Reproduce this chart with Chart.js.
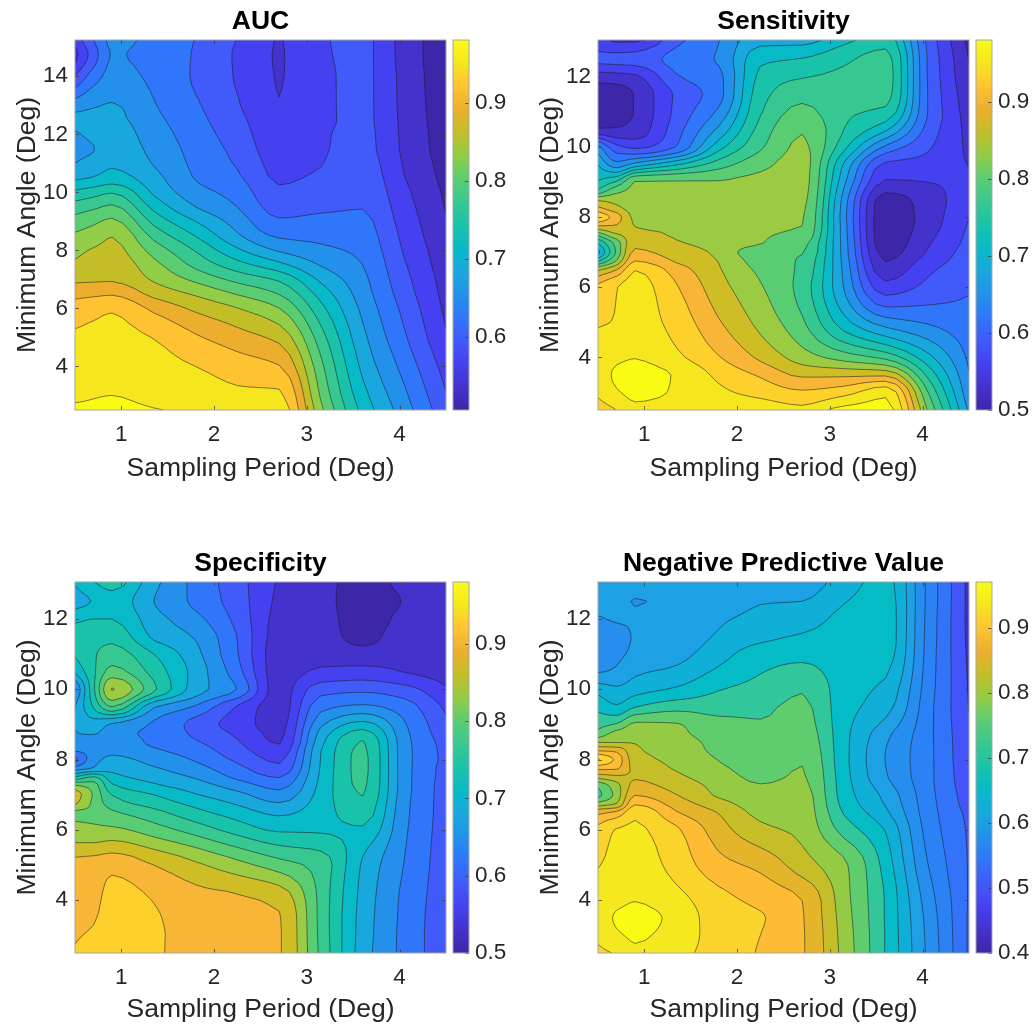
<!DOCTYPE html>
<html>
<head>
<meta charset="utf-8">
<title>Contour panels</title>
<script src="https://cdn.jsdelivr.net/npm/chart.js@4/dist/chart.umd.js"></script>
<style>
  body { margin: 0; background: #fff; }
  canvas { position: absolute; }
</style>
</head>
<body>
<canvas id="aucChart" width="447" height="490" style="left:0;top:0"></canvas>
<canvas id="aucBar" width="70" height="490" style="left:452px;top:0"></canvas>
<canvas id="sensChart" width="452" height="490" style="left:518px;top:0"></canvas>
<canvas id="sensBar" width="60" height="490" style="left:975px;top:0"></canvas>
<canvas id="specChart" width="447" height="491" style="left:0;top:542px"></canvas>
<canvas id="specBar" width="70" height="491" style="left:452px;top:542px"></canvas>
<canvas id="npvChart" width="452" height="491" style="left:518px;top:542px"></canvas>
<canvas id="npvBar" width="60" height="491" style="left:975px;top:542px"></canvas>
<script>
// Grid: one inner array per sampling period, bottom row first
const samplingPeriods = [0.5, 0.7, 0.9, 1.35, 1.8, 2.25, 2.7, 3.15, 3.6, 4.05, 4.5];
const aucAngles = [2.5, 3, 4, 5, 6, 6.5, 7, 7.5, 8, 8.5, 9, 9.5, 10, 10.5, 11, 11.5, 12, 12.5, 13, 14, 14.75, 15.25];
const angles = [2.5, 3, 3.5, 4, 5, 6, 6.5, 6.75, 7, 7.25, 7.5, 7.75, 8, 8.25, 8.5, 8.75, 9, 9.5, 10, 10.5, 11, 11.5, 12, 12.5, 13.05];

const aucValues = [
  [.983,.977,.966,.955,.933,.911,.884,.866,.851,.835,.812,.784,.746,.704,.68,.671,.677,.689,.665,.59,.551,.572],
  [.983,.979,.968,.958,.941,.914,.886,.875,.863,.845,.824,.794,.757,.712,.692,.679,.686,.689,.677,.635,.605,.62],
  [.985,.98,.97,.96,.947,.917,.887,.878,.869,.859,.836,.805,.768,.723,.706,.7,.694,.688,.682,.659,.652,.656],
  [.981,.974,.962,.949,.913,.881,.856,.839,.818,.791,.761,.731,.705,.69,.678,.671,.665,.658,.652,.644,.641,.643],
  [.976,.967,.95,.924,.884,.856,.823,.792,.768,.739,.71,.68,.662,.648,.643,.639,.634,.629,.624,.616,.617,.619],
  [.962,.956,.935,.903,.861,.828,.791,.752,.716,.685,.667,.65,.638,.625,.617,.611,.605,.599,.593,.587,.586,.589],
  [.965,.956,.922,.881,.831,.799,.765,.719,.677,.646,.624,.608,.595,.586,.58,.574,.569,.565,.561,.5585,.558,.5585],
  [.838,.826,.808,.783,.749,.728,.704,.678,.658,.641,.627,.615,.605,.595,.589,.587,.586,.584,.584,.584,.586,.587],
  [.731,.721,.703,.688,.673,.665,.658,.65,.642,.634,.626,.619,.613,.608,.604,.599,.598,.596,.596,.596,.596,.596],
  [.664,.656,.64,.624,.612,.605,.599,.593,.587,.582,.577,.572,.567,.561,.557,.554,.553,.552,.551,.55,.548,.548],
  [.599,.592,.578,.563,.554,.55,.547,.543,.54,.535,.532,.528,.525,.521,.518,.515,.514,.512,.511,.509,.509,.509]
];
const sensitivityValues = [
  [.932,.955,.961,.962,.947,.926,.854,.763,.701,.739,.809,.89,.944,.898,.854,.776,.743,.709,.659,.532,.512,.51,.545,.596,.575],
  [.95,.977,.985,.974,.952,.949,.89,.833,.806,.812,.856,.887,.905,.869,.848,.821,.775,.662,.599,.533,.515,.515,.548,.599,.554],
  [.974,.986,.992,.979,.964,.962,.949,.92,.896,.883,.871,.859,.854,.848,.842,.836,.832,.691,.583,.542,.532,.532,.554,.602,.554],
  [.968,.977,.977,.956,.938,.922,.905,.886,.874,.863,.856,.851,.848,.845,.842,.838,.833,.737,.622,.608,.599,.596,.617,.632,.611],
  [.965,.956,.943,.922,.893,.872,.863,.859,.854,.851,.848,.845,.842,.839,.836,.835,.832,.785,.728,.686,.656,.638,.641,.653,.649],
  [.968,.941,.916,.884,.851,.833,.823,.815,.806,.831,.833,.835,.836,.838,.839,.839,.838,.821,.795,.781,.767,.758,.748,.733,.698],
  [.959,.925,.885,.845,.805,.788,.793,.796,.802,.812,.823,.83,.833,.836,.839,.841,.842,.842,.836,.827,.809,.79,.768,.742,.698],
  [.992,.939,.884,.817,.722,.679,.674,.671,.668,.667,.665,.664,.662,.664,.668,.677,.688,.707,.749,.77,.776,.779,.776,.764,.731],
  [.995,.971,.884,.791,.665,.572,.541,.529,.518,.512,.509,.508,.509,.511,.515,.535,.556,.584,.644,.716,.762,.782,.785,.782,.755],
  [.83,.803,.764,.721,.647,.598,.583,.572,.562,.556,.55,.545,.543,.543,.545,.551,.56,.578,.595,.61,.621,.621,.62,.619,.614],
  [.674,.659,.652,.644,.631,.617,.611,.607,.604,.599,.596,.593,.589,.583,.578,.574,.569,.559,.554,.55,.544,.539,.533,.529,.521]
];
const specificityValues = [
  [.923,.917,.911,.908,.899,.838,.826,.865,.878,.836,.743,.664,.611,.652,.68,.679,.682,.679,.647,.715,.743,.755,.733,.698,.713],
  [.935,.925,.917,.911,.902,.836,.823,.823,.826,.815,.773,.683,.668,.659,.661,.683,.695,.743,.763,.764,.766,.758,.74,.712,.739],
  [.947,.943,.938,.934,.911,.836,.805,.785,.769,.746,.722,.701,.688,.673,.665,.662,.676,.8,.862,.811,.784,.761,.74,.728,.755],
  [.924,.924,.923,.919,.89,.814,.779,.758,.74,.716,.698,.683,.669,.655,.644,.643,.646,.683,.776,.758,.74,.704,.692,.68,.689],
  [.911,.911,.908,.902,.866,.787,.749,.731,.712,.695,.677,.661,.647,.635,.623,.614,.61,.646,.695,.698,.689,.677,.659,.643,.641],
  [.902,.901,.899,.895,.841,.758,.725,.707,.689,.667,.644,.629,.614,.602,.593,.584,.575,.587,.649,.632,.622,.619,.611,.605,.602],
  [.893,.893,.892,.883,.814,.736,.703,.682,.661,.641,.619,.598,.584,.572,.557,.551,.548,.545,.545,.545,.545,.548,.551,.554,.557],
  [.793,.791,.79,.79,.787,.736,.728,.725,.722,.719,.716,.713,.711,.709,.701,.691,.674,.64,.607,.566,.548,.542,.541,.539,.539],
  [.695,.697,.698,.7,.706,.736,.755,.763,.771,.775,.777,.778,.778,.776,.772,.752,.722,.656,.613,.571,.541,.521,.518,.518,.521],
  [.641,.641,.642,.643,.649,.655,.658,.659,.661,.662,.662,.662,.662,.662,.661,.658,.653,.634,.601,.559,.548,.541,.535,.531,.535],
  [.599,.599,.599,.601,.602,.604,.605,.605,.605,.605,.607,.608,.611,.61,.607,.601,.596,.584,.563,.548,.542,.539,.538,.538,.539]
];
const npvValues = [
  [.916,.932,.937,.939,.923,.899,.845,.762,.703,.72,.796,.864,.929,.855,.782,.726,.703,.67,.631,.573,.561,.556,.573,.582,.586],
  [.929,.955,.964,.951,.936,.927,.862,.785,.764,.771,.81,.859,.88,.848,.782,.761,.719,.65,.617,.579,.57,.566,.577,.579,.584],
  [.955,.964,.971,.959,.943,.93,.918,.885,.853,.831,.817,.808,.801,.792,.783,.771,.757,.678,.631,.603,.58,.577,.577,.5745,.582],
  [.936,.946,.95,.937,.911,.895,.857,.838,.82,.806,.792,.782,.776,.769,.764,.757,.752,.701,.65,.619,.598,.589,.584,.579,.582],
  [.909,.908,.906,.901,.867,.836,.818,.799,.78,.775,.766,.757,.749,.743,.74,.733,.727,.699,.678,.652,.631,.614,.605,.593,.593],
  [.887,.89,.893,.881,.846,.794,.776,.768,.759,.752,.743,.736,.729,.726,.722,.719,.717,.708,.692,.678,.663,.635,.619,.608,.596],
  [.859,.859,.858,.855,.801,.776,.769,.766,.762,.758,.754,.751,.747,.743,.738,.734,.729,.722,.712,.691,.67,.649,.628,.61,.589],
  [.773,.771,.768,.764,.757,.701,.677,.668,.663,.661,.659,.657,.656,.656,.656,.656,.657,.659,.661,.663,.663,.659,.654,.643,.628],
  [.678,.678,.677,.677,.666,.643,.617,.607,.6,.589,.579,.576,.574,.575,.579,.586,.6,.624,.636,.65,.659,.661,.661,.659,.656],
  [.57,.568,.565,.559,.542,.528,.523,.521,.519,.517,.516,.516,.516,.516,.516,.516,.517,.519,.523,.526,.528,.53,.531,.533,.533],
  [.465,.465,.465,.467,.467,.465,.46,.454,.451,.447,.444,.442,.44,.439,.439,.438,.437,.434,.432,.43,.428,.426,.425,.425,.425]
];

// Contour levels
const levels = [.53, .56, .59, .62, .65, .68, .71, .74, .77, .8, .83, .86, .89, .92, .95, .98];
const npvLevels = [.435, .47, .505, .54, .575, .61, .645, .68, .715, .75, .785, .82, .855, .89, .925, .96];

// Tick labels
const xTicks = [1, 2, 3, 4];
const aucYTicks = [4, 6, 8, 10, 12, 14];
const yTicks = [4, 6, 8, 10, 12];
const aucBarTicks = [.6, .7, .8, .9];
const barTicks = [.5, .6, .7, .8, .9];
const npvBarTicks = [.4, .5, .6, .7, .8, .9];

const bandColors = ["#3e26a8", "#4432cd", "#4641f0", "#415afa", "#3076fa", "#2391eb", "#19a8de", "#08b9c8",
  "#19c3aa", "#37c891", "#5acd73", "#91cd46", "#c3be28", "#ebaf2d", "#ffc332", "#f5e61e", "#f9fb15"];
const warmBandColors = ["#3e26a8", "#4432cd", "#4641f0", "#415afa", "#3076fa", "#2391eb", "#19a8de", "#08b9c8",
  "#19c3aa", "#37c891", "#5acd73", "#9bcb42", "#cfbd26", "#f8b637", "#fdd02c", "#f5e61e", "#f9fb15"];
const npvBandColors = ["#3e30cd", "#4155fa", "#3273fa", "#2a82f5", "#258eee", "#1ea0e4", "#0fafd7", "#05bbc6",
  "#32c69b", "#5fcd6e", "#94ca44", "#c6be28", "#e4b42a", "#febb34", "#fad42a", "#f5e81e", "#f9fb15"];

const FONT = "'Liberation Sans', Arial, sans-serif";
const INK = "#262626";

function toPoints(xs, ys, values) {
  const points = [];
  xs.forEach((x, i) => ys.forEach((y, j) => points.push({ x: x, y: y, z: values[i][j] })));
  return points;
}

// Shape-preserving curve through one grid line, so the contours come out rounded
function curveSlopes(t, v) {
  const n = t.length;
  const d = [];
  for (let i = 0; i < n - 1; i++) d.push((v[i + 1] - v[i]) / (t[i + 1] - t[i]));
  const m = [d[0]];
  for (let i = 1; i < n - 1; i++) {
    if (d[i - 1] * d[i] <= 0) {
      m.push(0);
    } else {
      const h0 = t[i] - t[i - 1];
      const h1 = t[i + 1] - t[i];
      const w0 = 2 * h1 + h0;
      const w1 = h1 + 2 * h0;
      m.push((w0 + w1) / (w0 / d[i - 1] + w1 / d[i]));
    }
  }
  m.push(d[n - 2]);
  return m;
}

function resample(t, v, steps) {
  const m = curveSlopes(t, v);
  const out = [];
  for (let i = 0; i < t.length - 1; i++) {
    const h = t[i + 1] - t[i];
    for (let s = 0; s < steps; s++) {
      const u = s / steps;
      const u2 = u * u;
      const u3 = u2 * u;
      out.push((2 * u3 - 3 * u2 + 1) * v[i] + (u3 - 2 * u2 + u) * h * m[i]
        + (3 * u2 - 2 * u3) * v[i + 1] + (u3 - u2) * h * m[i + 1]);
    }
  }
  out.push(v[v.length - 1]);
  return out;
}

function fineAxis(t, steps) {
  const out = [];
  for (let i = 0; i < t.length - 1; i++) {
    for (let s = 0; s < steps; s++) out.push(t[i] + (t[i + 1] - t[i]) * s / steps);
  }
  out.push(t[t.length - 1]);
  return out;
}

function fineGrid(xs, ys, values, steps) {
  const alongY = values.map(col => resample(ys, col, steps));
  const rows = alongY[0].map((_, j) => resample(xs, alongY.map(col => col[j]), steps));
  return { xs: fineAxis(xs, steps), ys: fineAxis(ys, steps), rowsFirst: rows };
}

function crossing(a, b, level) {
  const t = (level - a.z) / (b.z - a.z);
  return { x: a.x + (b.x - a.x) * t, y: a.y + (b.y - a.y) * t };
}

// Filled contour bands, worked out cell by cell through the chart's scales
const contourPlugin = {
  id: "contourBands",
  beforeDatasetsDraw(chart, args, opts) {
    const ctx = chart.ctx;
    const area = chart.chartArea;
    const xScale = chart.scales.x;
    const yScale = chart.scales.y;
    const fine = fineGrid(opts.xs, opts.ys, opts.values, 4);
    const nodes = fine.xs.map((x, i) => fine.ys.map((y, j) => ({
      x: xScale.getPixelForValue(x),
      y: yScale.getPixelForValue(y),
      z: fine.rowsFirst[j][i]
    })));

    ctx.save();
    ctx.beginPath();
    ctx.rect(area.left, area.top, area.width, area.height);
    ctx.clip();
    ctx.fillStyle = opts.colors[0];
    ctx.fillRect(area.left, area.top, area.width, area.height);

    const lines = new Path2D();
    opts.levels.forEach((level, k) => {
      const fill = new Path2D();
      for (let i = 0; i < nodes.length - 1; i++) {
        for (let j = 0; j < nodes[i].length - 1; j++) {
          const quad = [nodes[i][j], nodes[i + 1][j], nodes[i + 1][j + 1], nodes[i][j + 1]];
          const poly = [];
          const cuts = [];
          quad.forEach((a, q) => {
            const b = quad[(q + 1) % 4];
            if (a.z >= level) poly.push(a);
            if ((a.z >= level) !== (b.z >= level)) {
              const c = crossing(a, b, level);
              poly.push(c);
              cuts.push(c);
            }
          });
          if (poly.length) {
            poly.forEach((p, n) => n ? fill.lineTo(p.x, p.y) : fill.moveTo(p.x, p.y));
            fill.closePath();
          }
          if (cuts.length === 2) {
            lines.moveTo(cuts[0].x, cuts[0].y);
            lines.lineTo(cuts[1].x, cuts[1].y);
          } else if (cuts.length === 4) {
            const s = quad[0].z >= level ? 0 : 1;
            lines.moveTo(cuts[s].x, cuts[s].y);
            lines.lineTo(cuts[s + 1].x, cuts[s + 1].y);
            lines.moveTo(cuts[(s + 2) % 4].x, cuts[(s + 2) % 4].y);
            lines.lineTo(cuts[(s + 3) % 4].x, cuts[(s + 3) % 4].y);
          }
        }
      }
      ctx.fillStyle = opts.colors[k + 1];
      ctx.fill(fill);
    });
    ctx.strokeStyle = "rgba(25,25,35,0.72)";
    ctx.lineWidth = 0.75;
    ctx.stroke(lines);
    ctx.restore();
  }
};

// Grey box and the short inward ticks
const framePlugin = {
  id: "frame",
  afterDatasetsDraw(chart) {
    const ctx = chart.ctx;
    const a = chart.chartArea;
    ctx.save();
    ctx.strokeStyle = "rgba(60,60,60,0.75)";
    ctx.lineWidth = 1;
    ctx.beginPath();
    const len = 4;
    if (chart.scales.x.options.display) {
      chart.scales.x.ticks.forEach(t => {
        const px = Math.round(chart.scales.x.getPixelForValue(t.value)) + 0.5;
        ctx.moveTo(px, a.bottom); ctx.lineTo(px, a.bottom - len);
        ctx.moveTo(px, a.top); ctx.lineTo(px, a.top + len);
      });
      chart.scales.y.ticks.forEach(t => {
        const py = Math.round(chart.scales.y.getPixelForValue(t.value)) + 0.5;
        ctx.moveTo(a.left, py); ctx.lineTo(a.left + len, py);
      });
    }
    chart.scales.y.ticks.forEach(t => {
      const py = Math.round(chart.scales.y.getPixelForValue(t.value)) + 0.5;
      ctx.moveTo(a.right, py); ctx.lineTo(a.right - len, py);
    });
    ctx.stroke();
    ctx.strokeStyle = "#a6a6a6";
    ctx.strokeRect(a.left, a.top, a.width, a.height);
    ctx.restore();
  }
};

function fixedTicks(list) {
  return scale => { scale.ticks = list.map(v => ({ value: v })); };
}

function createContour(id, title, ys, yMax, yTickList, values, levelList, colors, axisWidth, yTitleLeft, xTitleBottom) {
  new Chart(document.getElementById(id), {
    type: "scatter",
    data: { datasets: [{ label: title, data: toPoints(samplingPeriods, ys, values), pointRadius: 0, showLine: false }] },
    plugins: [contourPlugin, framePlugin],
    options: {
      responsive: false,
      animation: false,
      layout: { autoPadding: false, padding: { right: 1 } },
      events: [],
      plugins: {
        legend: { display: false },
        tooltip: { enabled: false },
        title: {
          display: true,
          text: title,
          fullSize: false,
          color: "#000",
          font: { family: FONT, size: 26.5, weight: "bold" },
          padding: { top: 6, bottom: 2.2 }
        },
        contourBands: { xs: samplingPeriods, ys: ys, values: values, levels: levelList, colors: colors }
      },
      scales: {
        x: {
          type: "linear",
          min: 0.5,
          max: 4.5,
          afterBuildTicks: fixedTicks(xTicks),
          afterFit: s => { s.height = 80; },
          grid: { display: false, drawTicks: false },
          border: { display: false },
          ticks: { color: INK, font: { family: FONT, size: 22.5 }, padding: 11, maxRotation: 0 },
          title: {
            display: true,
            text: "Sampling Period (Deg)",
            color: INK,
            font: { family: FONT, size: 26.5 },
            padding: { top: 0, bottom: xTitleBottom }
          }
        },
        y: {
          type: "linear",
          min: 2.5,
          max: yMax,
          afterBuildTicks: fixedTicks(yTickList),
          afterFit: s => { s.width = axisWidth; },
          grid: { display: false, drawTicks: false },
          border: { display: false },
          ticks: { color: INK, font: { family: FONT, size: 22.5 }, padding: 7 },
          title: {
            display: true,
            text: "Minimum Angle (Deg)",
            color: INK,
            font: { family: FONT, size: 26.5 },
            padding: { top: yTitleLeft, bottom: 0 }
          }
        }
      }
    }
  });
}

function barGradient(context) {
  const area = context.chart.chartArea;
  if (!area) return bandColors[8];
  const g = context.chart.ctx.createLinearGradient(0, area.bottom, 0, area.top);
  bandColors.forEach((c, i) => g.addColorStop(i / (bandColors.length - 1), c));
  return g;
}

function createBar(id, min, max, tickList, areaHeight) {
  const canvas = document.getElementById(id);
  new Chart(canvas, {
    type: "bar",
    data: { labels: [""], datasets: [{ data: [[min, max]], backgroundColor: barGradient, barPercentage: 1, categoryPercentage: 1 }] },
    plugins: [framePlugin],
    options: {
      responsive: false,
      animation: false,
      events: [],
      layout: { autoPadding: false, padding: { top: 40, bottom: canvas.height - 40 - areaHeight, left: 1 } },
      plugins: { legend: { display: false }, tooltip: { enabled: false }, title: { display: false } },
      scales: {
        x: { display: false },
        y: {
          position: "right",
          min: min,
          max: max,
          afterBuildTicks: fixedTicks(tickList),
          afterFit: s => { s.width = canvas.width - 17; },
          grid: { display: false, drawTicks: false },
          border: { display: false },
          ticks: { color: INK, font: { family: FONT, size: 22.5 }, padding: 6, callback: v => v.toFixed(1) }
        }
      }
    }
  });
}

createContour("aucChart", "AUC", aucAngles, 15.25, aucYTicks, aucValues, levels, bandColors, 75, 12, 5);
createContour("sensChart", "Sensitivity", angles, 13.05, yTicks, sensitivityValues, levels, warmBandColors, 80, 17, 5);
createContour("specChart", "Specificity", angles, 13.05, yTicks, specificityValues, levels, warmBandColors, 75, 12, 7);
createContour("npvChart", "Negative Predictive Value", angles, 13.05, yTicks, npvValues, npvLevels, npvBandColors, 80, 17, 7);

createBar("aucBar", .507, .98, aucBarTicks, 370);
createBar("sensBar", .5, .98, barTicks, 370);
createBar("specBar", .5, .98, barTicks, 371);
createBar("npvBar", .4, .97, npvBarTicks, 371);
</script>
</body>
</html>
